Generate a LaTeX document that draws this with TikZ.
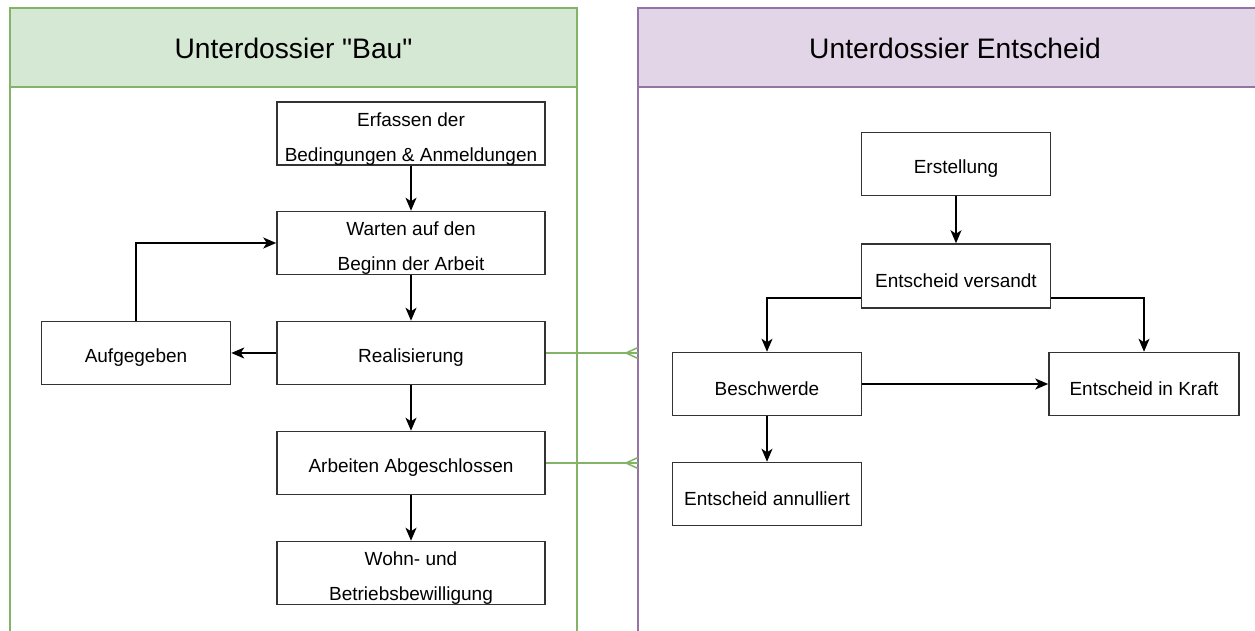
\documentclass[tikz,border=0pt]{standalone}
\usepackage{fontspec}
\setmainfont{Liberation Sans}[Ligatures=TeXOff]
\usetikzlibrary{arrows.meta,calc}
\definecolor{gfill}{HTML}{D5E8D4}
\definecolor{gline}{HTML}{82B366}
\definecolor{pfill}{HTML}{E1D5E7}
\definecolor{pline}{HTML}{9673A6}
\definecolor{boxline}{HTML}{333333}
\tikzset{
  stepbox/.style={draw=boxline, line width=1.5pt, fill=white, inner sep=0pt,
    minimum width=268pt, minimum height=63pt, align=center,
    font=\fontsize{19}{35}\selectfont,
    execute at begin node={\rule{0pt}{23pt}}},
  twoline/.style={execute at begin node={\rule{0pt}{59pt}}},
  smallbox/.style={stepbox, minimum width=189pt},
  flow/.style={draw=black, line width=1.5pt, -{Stealth[length=13pt,width=11pt,inset=3.5pt]}},
  link/.style={draw=gline, line width=1.5pt},
  title/.style={font=\fontsize{28.2}{32}\selectfont}
}
\begin{document}
\begin{tikzpicture}[x=1pt,y=-1pt]
\useasboundingbox (0,0) rectangle (1255,631);
\clip (0,0) rectangle (1255,631);
\fill[white] (0,0) rectangle (1255,631);
% panels
\draw[gline, line width=1.5pt, fill=white] (10,8) rectangle (577,680);
\draw[gline, line width=1.5pt, fill=gfill] (10,8) rectangle (577,87);
\node[title] (tbau) at (293.5,48) {Unterdossier "Bau"};
\draw[pline, line width=1.5pt, fill=white] (638,8) rectangle (1275,680);
\draw[pline, line width=1.5pt, fill=pfill] (638,8) rectangle (1275,87);
\node[title] (tent) at (955,48) {Unterdossier Entscheid};
% left nodes
\node[stepbox, twoline] (erf) at (411,133.5) {Erfassen der\\Bedingungen \& Anmeldungen};
\node[stepbox, twoline] (wart) at (411,243) {Warten auf den\\Beginn der Arbeit};
\node[stepbox] (real) at (411,353) {Realisierung};
\node[stepbox] (arb) at (411,463) {Arbeiten Abgeschlossen};
\node[stepbox, twoline] (wohn) at (411,573) {Wohn- und\\Betriebsbewilligung};
\node[smallbox] (aufg) at (136,353) {Aufgegeben};
% right nodes
\node[smallbox] (erst) at (956,164) {Erstellung};
\node[smallbox, minimum height=64pt] (vers) at (956,276) {Entscheid versandt};
\node[smallbox] (besch) at (767,384) {Beschwerde};
\node[smallbox, minimum width=190pt] (kraft) at (1144,384) {Entscheid in Kraft};
\node[smallbox] (annul) at (767,494) {Entscheid annulliert};
% left flow
\draw[flow] (erf) -- (wart);
\draw[flow] (wart) -- (real);
\draw[flow] (real) -- (arb);
\draw[flow] (arb) -- (wohn);
\draw[flow] (real) -- (aufg);
\draw[flow] (aufg.north) |- (wart.west);
% right flow
\draw[flow] (erst) -- (vers);
\coordinate (vl) at ($(vers.south west)+(0,-11)$);
\coordinate (vr) at ($(vers.south east)+(0,-11)$);
\draw[flow] (vl) -| (besch.north);
\draw[flow] (vr) -| (kraft.north);
\draw[flow] (besch.east) -- (kraft.west);
\draw[flow] (besch) -- (annul);
% links between panels
\coordinate (c1) at (638,353);
\coordinate (c2) at (638,463);
\draw[link] (real.east) -- (c1);
\draw[link] ($(c1)+(0,-5.5)$) -- ($(c1)+(-12,0)$) -- ($(c1)+(0,5.5)$);
\draw[link] (arb.east) -- (c2);
\draw[link] ($(c2)+(0,-5.5)$) -- ($(c2)+(-12,0)$) -- ($(c2)+(0,5.5)$);
\end{tikzpicture}
\end{document}
